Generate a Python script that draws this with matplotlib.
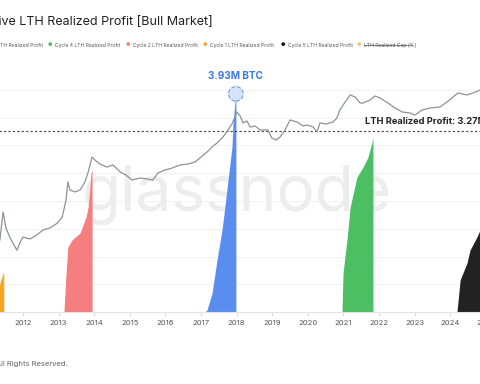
import matplotlib
matplotlib.use("Agg")
import matplotlib.pyplot as plt
from matplotlib.lines import Line2D

plt.rcParams["font.family"] = ["Inter", "DejaVu Sans"]

# cumulative LTH realized profit per cycle (millions of BTC)
c1_years = [2011.20, 2011.30, 2011.35, 2011.40, 2011.44, 2011.46]
c1_vals  = [0.0, 0.30, 0.52, 0.62, 0.70, 0.70]

c2_years = [2013.15, 2013.20, 2013.26, 2013.38, 2013.60, 2013.77, 2013.83, 2013.91, 2013.94]
c2_vals  = [0.0, 0.60, 1.17, 1.30, 1.42, 1.71, 1.89, 2.50, 2.56]

c3_years = [2017.11, 2017.17, 2017.31, 2017.45, 2017.59, 2017.67, 2017.76, 2017.87, 2017.90, 2017.96, 2017.98]
c3_vals  = [0.0, 0.04, 0.34, 0.94, 1.48, 1.89, 2.38, 2.97, 3.41, 3.82, 3.93]

c4_years = [2020.96, 2020.99, 2021.10, 2021.19, 2021.38, 2021.55, 2021.69, 2021.80, 2021.83]
c4_vals  = [0.0, 0.70, 1.30, 1.89, 2.43, 2.61, 2.79, 3.05, 3.15]

c5_years = [2024.19, 2024.28, 2024.47, 2024.56, 2024.75, 2024.84, 2025.00]
c5_vals  = [0.0, 0.58, 0.88, 1.12, 1.35, 1.48, 1.65]

# BTC price (USD, log scale)
price_years = [2011.35, 2011.44, 2011.52, 2011.64, 2011.83, 2011.92, 2012.00, 2012.20, 2012.39,
               2012.56, 2012.76, 2012.96, 2013.10, 2013.21, 2013.26, 2013.32, 2013.46, 2013.60,
               2013.74, 2013.83, 2013.94, 2014.02, 2014.16, 2014.36, 2014.53, 2014.73, 2014.89,
               2015.06, 2015.29, 2015.48, 2015.65, 2015.79, 2015.99, 2016.19, 2016.41, 2016.64,
               2016.83, 2016.97, 2017.17, 2017.34, 2017.45, 2017.62, 2017.76, 2017.87, 2018.01,
               2018.10, 2018.18, 2018.29, 2018.38, 2018.52, 2018.66, 2018.88, 2018.99, 2019.11,
               2019.22, 2019.36, 2019.50, 2019.70, 2019.87, 2019.98, 2020.15, 2020.26, 2020.34,
               2020.51, 2020.71, 2020.82, 2020.90, 2021.05, 2021.19, 2021.33, 2021.47, 2021.55,
               2021.75, 2021.89, 2022.03, 2022.25, 2022.45, 2022.65, 2022.87, 2023.01, 2023.21,
               2023.43, 2023.71, 2023.91, 2024.08, 2024.22, 2024.47, 2024.64, 2024.84, 2025.00]
price_vals = [5, 31, 11, 5.7, 2.6, 4.4, 6.1, 5.4, 7,
              9.7, 11, 15, 22, 68, 217, 129, 114, 129,
              217, 415, 1100, 904, 698, 574, 655, 415, 342,
              247, 281, 264, 247, 389, 473, 538, 655, 698,
              794, 1030, 1520, 2240, 2720, 4020, 6340, 9350, 20400,
              15700, 9980, 11350, 7690, 8200, 6340, 6340, 3770, 3310,
              4020, 6340, 12100, 10640, 8200, 8750, 7690, 5560, 10000,
              9350, 10640, 13800, 23200, 38900, 61400, 53800, 36500, 36500,
              44400, 57400, 50500, 36500, 26400, 20400, 19100, 16700, 23200,
              26400, 28100, 38900, 53800, 69800, 61400, 69800, 84700, 96600]

year_ticks = list(range(2012, 2026))
peak_year, peak_val = 2017.98, 3.93
ref_val = 3.27

legend_labels = ["Cycle 3 LTH Realized Profit", "Cycle 4 LTH Realized Profit",
                 "Cycle 2 LTH Realized Profit", "Cycle 1 LTH Realized Profit",
                 "Cycle 5 LTH Realized Profit", "LTH Realized Cap (%)"]
legend_colors = ["#5b8def", "#4cbf62", "#f57f7f", "#f5a623", "#111111", "#f3c27a"]

W, H = 480, 384
fig = plt.figure(figsize=(4.8, 3.84), dpi=100)
fig.patch.set_facecolor("white")

# axes run past the figure edges (the reference is a crop)
left_px, right_px, top_px, bot_px = -30, 510, 60, 312
ax = fig.add_axes([left_px / W, 1 - bot_px / H, (right_px - left_px) / W, (bot_px - top_px) / H])
ax.set_xlim(2012 + (left_px - 23) / 35.6, 2012 + (right_px - 23) / 35.6)
ax.set_ylim(0, (bot_px - top_px) / 55.5)

for spine in ["top", "left", "right"]:
    ax.spines[spine].set_visible(False)
ax.spines["bottom"].set_color("#e4e4e4")
ax.set_yticks([])
ax.set_xticks(year_ticks)
ax.set_xticklabels([str(y) for y in year_ticks])
ax.tick_params(axis="x", length=3, color="#dddddd", labelsize=5.5, labelcolor="#555555", pad=3)
for v in [0.5, 1.0, 1.5, 2.0, 2.5, 3.0, 3.5, 4.0]:
    ax.axhline(v, color="#f1f1f1", lw=0.6, zorder=0)

ax.text(2018.0, 1.84, "glassnode", ha="center", va="baseline", fontsize=46,
        fontweight="normal", color="#ededed", zorder=0.5)

ax.fill_between(c1_years, c1_vals, 0, color="#f5a623", lw=0, zorder=2)
ax.fill_between(c2_years, c2_vals, 0, color="#f57f7f", lw=0, zorder=2)
ax.fill_between(c3_years, c3_vals, 0, color="#5b8def", lw=0, zorder=2)
ax.fill_between(c4_years, c4_vals, 0, color="#4cbf62", lw=0, zorder=2)
ax.fill_between(c5_years, c5_vals, 0, color="#222222", lw=0, zorder=2)

ax.axhline(ref_val, color="#444444", lw=0.8, ls=(0, (2, 2)), zorder=3)
ax.annotate("LTH Realized Profit: 3.27M", (2021.61, ref_val), xytext=(0, 3),
            textcoords="offset points", ha="left", va="bottom", fontsize=6.7,
            fontweight="bold", color="#222222", zorder=5)

ax.scatter([peak_year], [peak_val], s=110, facecolor="#d6e4fb", edgecolor="#6b9be8",
           linestyle="--", linewidths=0.8, zorder=4)
ax.annotate("3.93M BTC", (peak_year, peak_val), xytext=(0, 9), textcoords="offset points",
            ha="center", va="bottom", fontsize=7.2, fontweight="bold", color="#3d7be3")

# price on its own log axis
ax2 = ax.twinx()
ax2.set_yscale("log")
ax2.set_ylim(10 ** (3.041 - (bot_px - 157) / 35.5), 10 ** (3.041 + (157 - top_px) / 35.5))
ax2.plot(price_years, price_vals, color="#8a9499", lw=0.9, zorder=3)
ax2.set_yticks([])
ax2.minorticks_off()
for spine in ax2.spines.values():
    spine.set_visible(False)

fig.text(213 / W, 1 - 22 / H, "Cumulative LTH Realized Profit [Bull Market]", ha="right",
         va="center", fontsize=9.0, color="#222222")

dot_x = [-27, 50, 128, 205, 283, 359]
for i, (lab, col) in enumerate(zip(legend_labels, legend_colors)):
    fx = dot_x[i] / W
    fig.text(fx, 1 - 45 / H, "●", ha="center", va="center", fontsize=3.6, color=col)
    fig.text(fx + 5 / W, 1 - 45 / H, lab, ha="left", va="center", fontsize=3.6, color="#555555")
fig.add_artist(Line2D([364 / W, 412 / W], [1 - 45 / H, 1 - 45 / H], color="#555555", lw=0.5))

fig.text(68 / W, 1 - 364 / H, "© 2025 Glassnode. All Rights Reserved.", ha="right", va="center",
         fontsize=5.5, color="#666666")

fig.savefig("out.png", dpi=100, facecolor="white")
